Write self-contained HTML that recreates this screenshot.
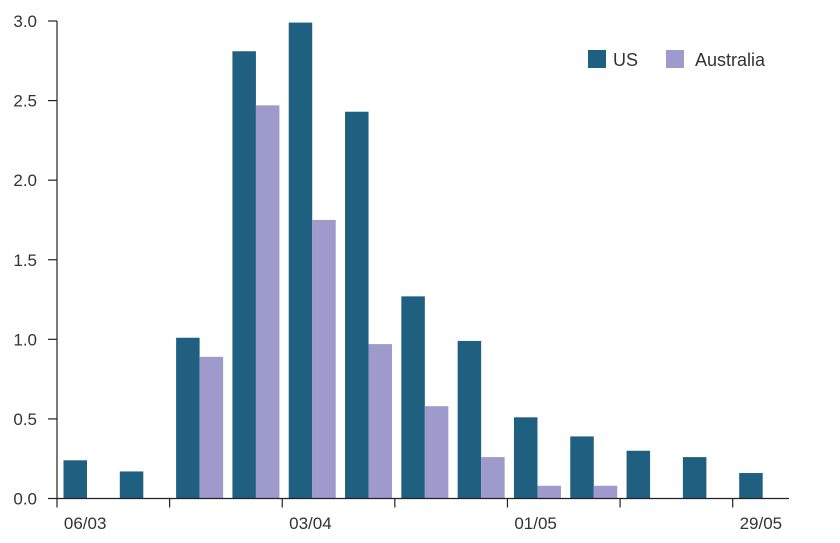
<!DOCTYPE html>
<html><head><meta charset="utf-8"><style>
body{margin:0;background:#fff;}
svg{display:block;font-family:"Liberation Sans",sans-serif;}
</style></head><body>
<svg width="840" height="543">
<g id="bars"></g>
<g id="axes"></g>
<g>
 <rect x="588" y="50" width="18" height="18" fill="#1f5f80"/>
 <text x="613" y="66" font-size="18" fill="#333">US</text>
 <rect x="666" y="50" width="18" height="18" fill="#9e9acb"/>
 <text x="695" y="66" font-size="18" fill="#333">Australia</text>
</g>
</svg>
<script>
const categories=["06/03","","","","03/04","","","","01/05","","","","29/05"];
const usValues=[0.24,0.17,1.01,2.81,2.99,2.43,1.27,0.99,0.51,0.39,0.30,0.26,0.16];
const auValues=[0,0,0.89,2.47,1.75,0.97,0.58,0.26,0.08,0.08,0,0,0];
const yTicks=["0.0","0.5","1.0","1.5","2.0","2.5","3.0"];
const NS="http://www.w3.org/2000/svg";
const x0=57,x1=789,y0=498.5,yTop=21,yMax=3;
const gw=(x1-x0)/categories.length;
function xs(i){return x0+i*gw;}
function ys(v){return y0-(v/yMax)*(y0-yTop);}
function mk(tag,attrs,parent){const e=document.createElementNS(NS,tag);for(const k in attrs)e.setAttribute(k,attrs[k]);parent.appendChild(e);return e;}
const bars=document.getElementById('bars'),axes=document.getElementById('axes');
const bw=23.5;
categories.forEach((c,i)=>{
 if(usValues[i]>0){const r=mk('rect',{x:xs(i)+6.5,y:ys(usValues[i]),width:bw,height:y0-ys(usValues[i]),fill:'#1f5f80'},bars);
 
 }
 if(auValues[i]>0){const r=mk('rect',{x:xs(i)+6.5+bw,y:ys(auValues[i]),width:bw,height:y0-ys(auValues[i]),fill:'#9e9acb'},bars);
 
 }
 if(c){const t=mk('text',{x:xs(i)+gw/2,y:529,'font-size':17,fill:'#333','text-anchor':'middle'},axes);t.textContent=c;
 
 }
});
for(let i=0;i<=categories.length;i+=2){const l=mk('line',{x1:xs(i),x2:xs(i),y1:y0,y2:y0+9,stroke:'#222','stroke-width':1.2},axes);
 
 }
yTicks.forEach(s=>{const v=parseFloat(s);const y=ys(v);
 const l=mk('line',{x1:48,x2:x0,y1:y,y2:y,stroke:'#222','stroke-width':1.2},axes);
 
 
 const t=mk('text',{x:37,y:y+6,'font-size':17,fill:'#333','text-anchor':'end'},axes);t.textContent=s;
 
 });
const ya=mk('line',{x1:x0,x2:x0,y1:yTop,y2:y0,stroke:'#222','stroke-width':1.2},axes);


const xa=mk('line',{x1:x0,x2:x1,y1:y0,y2:y0,stroke:'#222','stroke-width':1.2},axes);


</script>
</body></html>
